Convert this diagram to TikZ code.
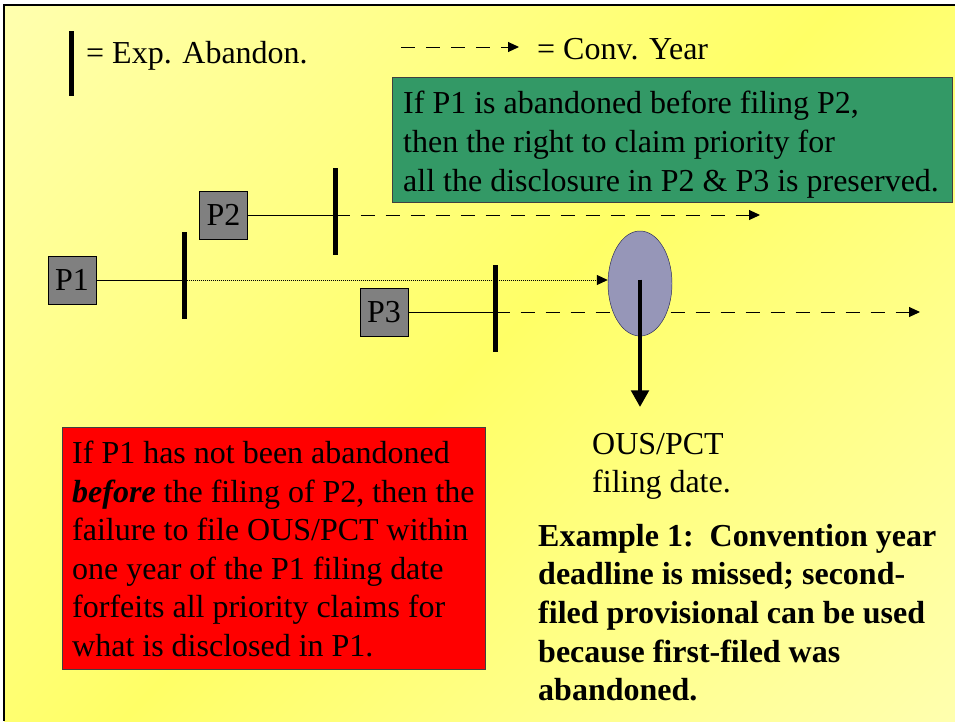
\documentclass[tikz,border=0pt]{standalone}
\usepackage{fontspec}
\setmainfont{Liberation Serif}
\usetikzlibrary{arrows.meta,shapes.geometric}
\pgfdeclarelayer{lines}
\pgfsetlayers{lines,main}
\definecolor{bglight}{RGB}{255,255,204}
\definecolor{bgyellow}{RGB}{255,255,102}
\definecolor{boxgray}{RGB}{128,128,128}
\definecolor{seagreen}{RGB}{51,153,102}
\definecolor{ellfill}{RGB}{150,150,184}
\definecolor{ellline}{RGB}{40,40,90}
\pgfdeclarehorizontalshading{slidebg}{100bp}{color(0bp)=(bglight); color(50bp)=(bgyellow); color(100bp)=(bglight)}
\newcommand\slidefont[1]{\fontsize{27.3}{#1}\selectfont}
\begin{document}
\begin{tikzpicture}[x=0.03cm,y=-0.03cm,
  pbox/.style={draw=black, line width=0.5pt, fill=boxgray, minimum width=1.44cm, minimum height=1.44cm, inner sep=0pt, font=\slidefont{33}},
  abar/.style={fill=black, inner sep=0pt, minimum width=0.15cm, minimum height=2.61cm},
  txt/.style={inner sep=0pt, align=left, font=\slidefont{32.9}},
  solidline/.style={line width=0.03cm},
  dashline/.style={line width=0.03cm, dash pattern=on 0.42cm off 0.33cm},
  dotline/.style={line width=0.025cm, dash pattern=on 0.03cm off 0.03cm},
  tipsmall/.style={-{Triangle[length=0.33cm,width=0.3cm]}},
  colbox/.style={draw=black!75, line width=0.5pt, inner sep=0pt, anchor=north west}]
\useasboundingbox (0,0) rectangle (955,721);
\begin{pgfonlayer}{lines}
\fill[white] (0,0) rectangle (955,721);
\shade[shading=slidebg, shading angle=-45] (4,5) rectangle (955,721);
\draw[line width=0.06cm] (4,721) -- (4,5) -- (955,5);
\end{pgfonlayer}

% legend
\node[abar, minimum height=1.95cm] (legbar) at (71,63.5) {};
\node[txt, anchor=base west] (legtext1) at (86,63) {= Exp. Abandon.};
\coordinate (legA) at (401,47);
\coordinate (legB) at (519,47);
\draw[dashline, tipsmall] (legA) -- (legB);
\node[txt, anchor=base west] (legtext2) at (537,59) {= Conv. Year};

% green box
\node[colbox, fill=seagreen, minimum width=16.8cm, minimum height=3.75cm] (gbox) at (392,77) {};
\node[txt, anchor=north west, font=\slidefont{33.3}] (gtext) at (403,91) {If P1 is abandoned before filing P2,\\ then the right to claim priority for\\ all the disclosure in P2 \& P3 is preserved.};

% applications
\node[pbox] (P1) at (72,280) {P1};
\node[pbox] (P2) at (223.5,215) {P2};
\node[pbox] (P3) at (384,312) {P3};

\node[ellipse, draw=ellline, line width=0.4pt, fill=ellfill, minimum width=1.92cm, minimum height=3.15cm, inner sep=0pt] (ell) at (640,283.5) {};

\node[abar] (bar1) at (184.5,275.5) {};
\node[abar] (bar2) at (335.5,211.5) {};
\node[abar] (bar3) at (495.5,308) {};

\coordinate (p2end) at (760,215);
\coordinate (p3end) at (920,312);

\begin{pgfonlayer}{lines}
\draw[solidline] (P1.east) -- (P1.east -| bar1.center);
\draw[dotline, tipsmall] (P1.east -| bar1.center) -- (P1.east -| ell.west);
\draw[solidline] (P2.east) -- (P2.east -| bar2.center);
\draw[dashline, tipsmall] (P2.east -| bar2.center) -- (p2end);
\draw[solidline] (P3.east) -- (P3.east -| bar3.center);
\draw[dashline, tipsmall] (P3.east -| bar3.center) -- (p3end);
\end{pgfonlayer}

\coordinate (downEnd) at (640,407);
\draw[line width=0.12cm, -{Triangle[length=0.5cm,width=0.52cm]}] (ell.center) ++(0,-4) -- (downEnd);

\node[txt, anchor=north west, font=\slidefont{32.4}] (ous) at (592,433.5) {OUS/PCT\\ filing date.};

% red box
\node[colbox, fill=red, minimum width=12.69cm, minimum height=7.26cm] (rbox) at (62,427) {};
\node[txt, anchor=north west] (rtext) at (72,441) {If P1 has not been abandoned\\ \textbf{\textit{before}} the filing of P2, then the\\ failure to file OUS/PCT within\\ one year of the P1 filing date\\ forfeits all priority claims for\\ what is disclosed in P1.};

\node[txt, anchor=north west, font=\slidefont{32.9}\bfseries] (ex) at (538,524) {Example 1:\ \ Convention year\\ deadline is missed; second-\\ filed provisional can be used\\ because first-filed was\\ abandoned.};
\end{tikzpicture}
\end{document}
